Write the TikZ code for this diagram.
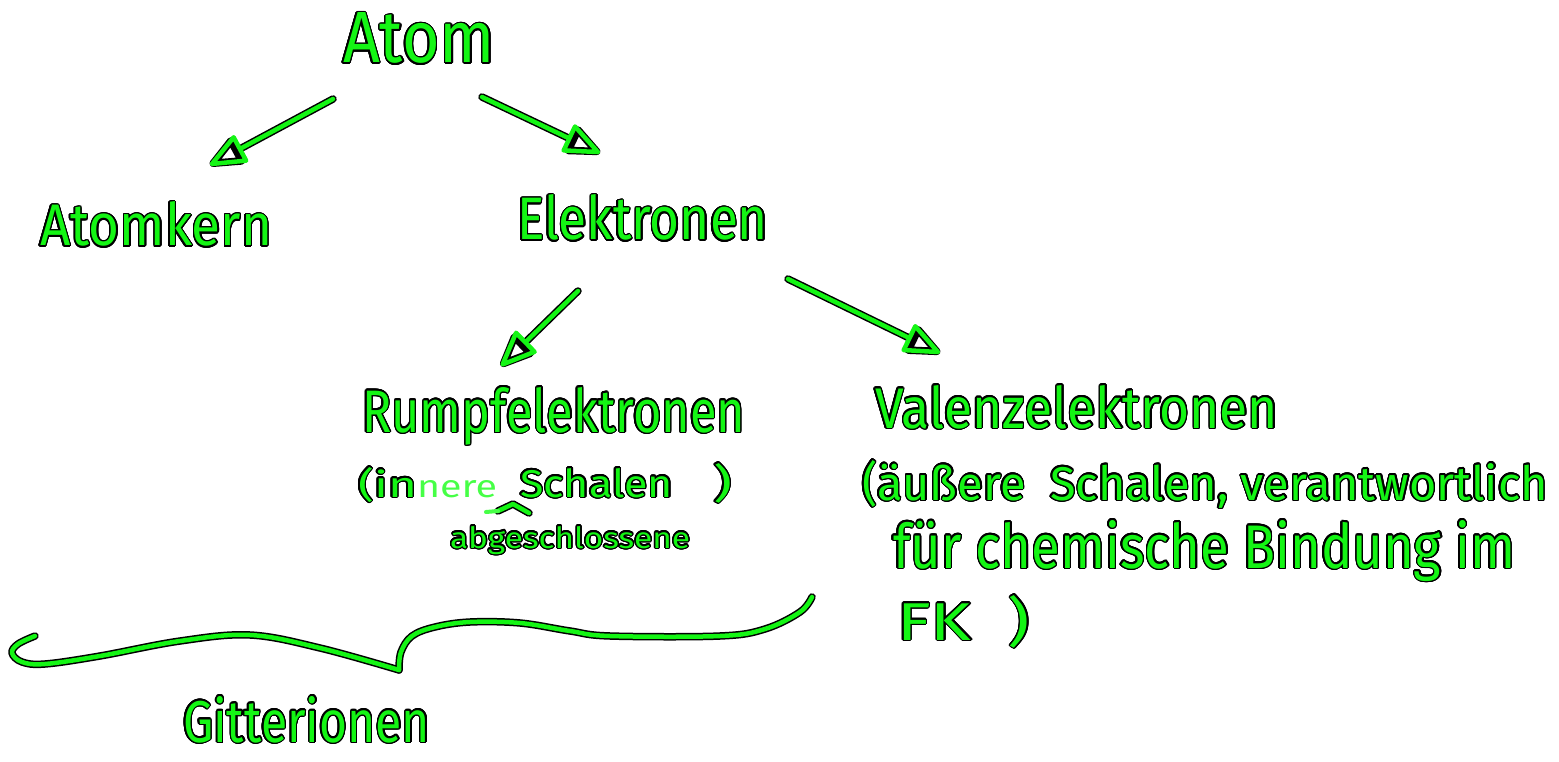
\documentclass[tikz,border=0pt]{standalone}
\usepackage{fontspec}
\setmainfont{Fira Sans}
\usepackage{graphicx}
\usepackage[copies]{contour}
\usetikzlibrary{arrows.meta}
\definecolor{pen}{RGB}{20,245,20}
\definecolor{penlight}{RGB}{70,255,70}
\contourlength{1.4pt}
\contournumber{24}
\newcommand\hw[3]{{\color{pen}\contour{black}{\resizebox{#1pt}{#2pt}{#3}}}}
\newcommand\hwl[3]{{\color{penlight}\resizebox{#1pt}{#2pt}{#3}}}
\tikzset{
  txt/.style={anchor=base west, inner sep=0pt, outer sep=0pt},
  ink/.style={draw=black, line width=7.5pt, line cap=round, line join=round},
  inkin/.style={draw=pen, line width=4.5pt, line cap=round, line join=round},
  inklight/.style={draw=penlight, line width=4pt, line cap=round, line join=round},
  arr/.style={-{Triangle[open, length=40pt, width=32pt, round]}}
}
\begin{document}
\begin{tikzpicture}[x=1pt,y=-1pt]
\useasboundingbox (0,0) rectangle (1559,762);

% texts
\node[txt] (atom) at (343,63) {\hw{152}{50}{Atom}};
\node[txt] (kern) at (40,246) {\hw{232}{44}{Atomkern}};
\node[txt] (elek) at (517,240) {\hw{251}{45}{Elektronen}};
\node[txt] (rumpf) at (362,432) {\hw{383}{45}{Rumpfelektronen}};
\node[txt] (valenz) at (875,428) {\hw{403}{43}{Valenzelektronen}};

\node[txt] (inA) at (358,497) {\hw{59}{30}{(in}};
\node[txt] (inB) at (417,497) {\hwl{80}{17}{nere}};
\node[txt] (inC) at (520,497) {\hw{153}{29}{Schalen}};
\node[txt] (inD) at (713,497) {\hw{19}{34}{)}};
\node[txt] (abg) at (450,548) {\hw{240}{22}{abgeschlossene}};

\node[txt] (vl1) at (862,500) {\hw{686}{40}{(äußere\ \ Schalen,\ verantwortlich}};
\node[txt] (vl2) at (893,568) {\hw{622}{48}{für chemische Bindung im}};
\node[txt] (vl3) at (897,640) {\hw{133}{45}{FK\ \ )}};

\node[txt] (gitter) at (183,742) {\hw{247}{46}{Gitterionen}};

% arrow coordinates
\coordinate (a1s) at (333,99);  \coordinate (a1e) at (210,165);
\coordinate (a2s) at (482,97);  \coordinate (a2e) at (600,153);
\coordinate (a3s) at (578,291); \coordinate (a3e) at (501,366);
\coordinate (a4s) at (788,279); \coordinate (a4e) at (940,353);

\foreach \s in {ink,inkin} {
  \draw[\s,arr] (a1s) -- (a1e);
  \draw[\s,arr] (a2s) -- (a2e);
  \draw[\s,arr] (a3s) -- (a3e);
  \draw[\s,arr] (a4s) -- (a4e);
  % brace
  \draw[\s] plot[smooth, tension=0.6] coordinates {(35,636) (18,644) (12,653) (22,662) (45,664) (100,656) (180,641) (250,635) (320,648) (399,670)};
  \draw[\s] plot[smooth, tension=0.6] coordinates {(399,670) (401,652) (412,636) (435,627) (470,622) (520,623) (570,631) (610,636) (720,636) (765,629) (800,612) (812,597)};
  % caret
  \draw[\s] (498,511) -- (513,504) -- (529,513);
}
\draw[inklight] (486,512) -- (498,511);
\end{tikzpicture}
\end{document}
